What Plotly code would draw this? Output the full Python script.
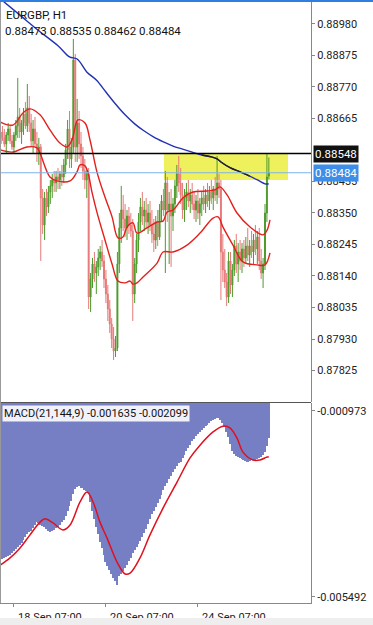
import plotly.graph_objects as go

# ---------------- data ----------------
opens = [0.8858,0.8862,0.8860,0.8858,0.8861,0.8863,0.8859,0.8857,0.8861,0.8864,
         0.8867,0.8862,0.8865,0.8868,0.8864,0.8870,0.8865,0.8859,0.8863,0.8858,
         0.8855,0.8857,0.8840,0.8831,0.8840,0.8837,0.8842,0.8844,0.8846,0.8845,
         0.8847,0.8846,0.8848,0.8847,0.8851,0.8856,0.8863,0.8853,0.8857,0.8886,
         0.8857,0.8865,0.8858,0.8854,0.8849,0.8846,0.8848,0.8807,0.8813,0.8818,
         0.8815,0.8817,0.8820,0.8822,0.8819,0.8813,0.8808,0.8803,0.8798,0.8793,
         0.8789,0.8790,0.8818,0.8830,0.8836,0.8833,0.8830,0.8834,0.8831,0.8829,
         0.8808,0.8818,0.8826,0.8832,0.8837,0.8834,0.8836,0.8832,0.8835,0.8831,
         0.8828,0.8826,0.8832,0.8827,0.8836,0.8839,0.8836,0.8845,0.8836,0.8838,
         0.8834,0.8838,0.8844,0.8848,0.8845,0.8841,0.8836,0.8840,0.8842,0.8839,
         0.8841,0.8838,0.8836,0.8839,0.8835,0.8838,0.8840,0.8838,0.8841,0.8839,
         0.8842,0.8840,0.8843,0.8841,0.8845,0.8843,0.8822,0.8816,0.8812,0.8807,
         0.8819,0.8811,0.8816,0.8824,0.8818,0.8822,0.8819,0.8823,0.8820,0.8824,
         0.8821,0.8824,0.8822,0.8826,0.8823,0.8827,0.8819,0.8815,0.8818,0.8835,
         0.88473]
highs = [0.8863,0.8864,0.8863,0.8862,0.8865,0.8864,0.8861,0.8862,0.8866,0.8880,
         0.8870,0.8866,0.8870,0.8872,0.8878,0.8874,0.8868,0.8866,0.8867,0.8862,
         0.8860,0.8858,0.8843,0.8842,0.8843,0.8844,0.8846,0.8848,0.8849,0.8849,
         0.8850,0.8849,0.8851,0.8853,0.8858,0.8866,0.8869,0.8860,0.8893,0.8888,
         0.8873,0.8869,0.8862,0.8857,0.8853,0.8850,0.8850,0.8815,0.8820,0.8822,
         0.8819,0.8823,0.8824,0.8826,0.8821,0.8816,0.8811,0.8806,0.8800,0.8797,
         0.8794,0.8822,0.8835,0.8844,0.8841,0.8838,0.8836,0.8837,0.8835,0.8833,
         0.8820,0.8828,0.8835,0.8840,0.8842,0.8839,0.8840,0.8838,0.8839,0.8836,
         0.8833,0.8834,0.8836,0.8838,0.8841,0.8843,0.8849,0.8847,0.8842,0.8843,
         0.8840,0.8846,0.8851,0.8854,0.8850,0.8845,0.8843,0.8845,0.8846,0.8843,
         0.8845,0.8842,0.8841,0.8843,0.8840,0.8842,0.8844,0.8843,0.8845,0.8844,
         0.8846,0.8844,0.8847,0.8854,0.8848,0.8846,0.8828,0.8823,0.8815,0.8822,
         0.8822,0.8818,0.8826,0.8828,0.8825,0.8826,0.8825,0.8826,0.8827,0.8830,
         0.8826,0.8829,0.8828,0.8831,0.8829,0.8830,0.8823,0.8820,0.8838,0.8855,
         0.88535]
lows = [0.8856,0.8859,0.8857,0.8855,0.8859,0.8858,0.8856,0.8855,0.8859,0.8860,
        0.8860,0.8858,0.8861,0.8863,0.8862,0.8862,0.8857,0.8855,0.8857,0.8852,
        0.8851,0.8819,0.8828,0.8826,0.8834,0.8835,0.8838,0.8840,0.8842,0.8842,
        0.8843,0.8843,0.8844,0.8845,0.8848,0.8853,0.8850,0.8850,0.8855,0.8852,
        0.8852,0.8853,0.8850,0.8846,0.8843,0.8840,0.8803,0.8802,0.8810,0.8812,
        0.8808,0.8814,0.8816,0.8817,0.8810,0.8805,0.8799,0.8795,0.8790,0.8786,
        0.8787,0.8789,0.8815,0.8825,0.8829,0.8827,0.8826,0.8828,0.8827,0.8799,
        0.8805,0.8815,0.8822,0.8829,0.8831,0.8829,0.8830,0.8828,0.8829,0.8825,
        0.8822,0.8823,0.8824,0.8826,0.8832,0.8834,0.8815,0.8832,0.8818,0.8817,
        0.8829,0.8835,0.8840,0.8842,0.8838,0.8833,0.8832,0.8836,0.8837,0.8835,
        0.8836,0.8833,0.8832,0.8833,0.8831,0.8834,0.8836,0.8835,0.8837,0.8836,
        0.8838,0.8836,0.8839,0.8838,0.8840,0.8806,0.8812,0.8810,0.8804,0.8805,
        0.8808,0.8807,0.8814,0.8815,0.8812,0.8816,0.8815,0.8817,0.8818,0.8819,
        0.8817,0.8820,0.8818,0.8821,0.8818,0.8816,0.8813,0.8810,0.8816,0.8832,
        0.88462]
closes = [0.8862,0.8860,0.8858,0.8861,0.8863,0.8859,0.8857,0.8861,0.8864,0.8867,
          0.8862,0.8865,0.8868,0.8864,0.8870,0.8865,0.8859,0.8863,0.8858,0.8855,
          0.8857,0.8840,0.8831,0.8840,0.8837,0.8842,0.8844,0.8846,0.8845,0.8847,
          0.8846,0.8848,0.8847,0.8851,0.8856,0.8863,0.8853,0.8857,0.8886,0.8857,
          0.8865,0.8858,0.8854,0.8849,0.8846,0.8848,0.8807,0.8813,0.8818,0.8815,
          0.8817,0.8820,0.8822,0.8819,0.8813,0.8808,0.8803,0.8798,0.8793,0.8789,
          0.8790,0.8818,0.8830,0.8836,0.8833,0.8830,0.8834,0.8831,0.8829,0.8808,
          0.8818,0.8826,0.8832,0.8837,0.8834,0.8836,0.8832,0.8835,0.8831,0.8828,
          0.8826,0.8832,0.8827,0.8836,0.8839,0.8836,0.8845,0.8836,0.8838,0.8834,
          0.8838,0.8844,0.8848,0.8845,0.8841,0.8836,0.8840,0.8842,0.8839,0.8841,
          0.8838,0.8836,0.8839,0.8835,0.8838,0.8840,0.8838,0.8841,0.8839,0.8842,
          0.8840,0.8843,0.8841,0.8845,0.8843,0.8822,0.8816,0.8812,0.8807,0.8819,
          0.8811,0.8816,0.8824,0.8818,0.8822,0.8819,0.8823,0.8820,0.8824,0.8821,
          0.8824,0.8822,0.8826,0.8823,0.8827,0.8819,0.8815,0.8818,0.8835,0.8847,
          0.88484]

# moving average (blue)
ma_idx = [0,10,20,30,36,40,45,50,55,60,65,70,75,80,85,90,95,100,105,110,113,115,120,125,130,135,138,140]
ma_val = [0.89063,0.89010,0.88957,0.88907,0.88870,0.88863,0.88820,0.88793,0.88753,0.88713,0.88677,
          0.88647,0.88623,0.88603,0.88587,0.88573,0.88563,0.88553,0.88543,0.88537,0.88530,0.88520,
          0.88500,0.88487,0.88473,0.88457,0.88447,0.88447]

# envelope (red)
upper_idx = [0,6.5,11.7,15.4,20.6,25.8,31,34.7,37.3,40.4,44.1,46.7,50.3,54.5,58.2,61.3,63.9,66,69.1,
             71.2,76.4,81.7,84.8,86.9,90,95.2,100.4,107.7,111.9,114.5,118.2,123.4,130.2,137,139.1,140.6]
upper_val = [0.88653,0.88643,0.88683,0.88697,0.88677,0.88627,0.88583,0.88570,0.88593,0.88660,0.88650,
             0.88593,0.88487,0.88403,0.88337,0.88267,0.88270,0.88303,0.88317,0.88283,0.88300,0.88320,
             0.88323,0.88353,0.88360,0.88400,0.88420,0.88423,0.88427,0.88437,0.88410,0.88350,0.88303,
             0.88277,0.88293,0.88327]
lower_idx = [0,6.5,13.8,19,20.6,25.8,29.5,36.3,39.9,41.5,44.1,45.7,47.7,50.3,54.5,58.2,61.3,65,67.6,
             69.1,71.2,74.4,81.7,84.8,90,97.3,104.1,110.9,113.5,116.1,121.3,126.5,133.8,138,140.6]
lower_val = [0.88560,0.88553,0.88570,0.88567,0.88550,0.88470,0.88457,0.88457,0.88487,0.88510,0.88507,
             0.88483,0.88420,0.88353,0.88260,0.88180,0.88123,0.88117,0.88123,0.88113,0.88117,0.88137,
             0.88183,0.88220,0.88220,0.88243,0.88283,0.88333,0.88337,0.88303,0.88243,0.88187,0.88177,
             0.88177,0.88217]

# MACD histogram and signal
macd_hist = [-0.00460,-0.00458,-0.00455,-0.00452,-0.00450,-0.00448,-0.00444,-0.00439,-0.00434,-0.00429,
             -0.00424,-0.00418,-0.00411,-0.00404,-0.00398,-0.00393,-0.00389,-0.00383,-0.00375,-0.00368,
             -0.00370,-0.00374,-0.00378,-0.00380,-0.00384,-0.00389,-0.00392,-0.00390,-0.00387,-0.00383,
             -0.00380,-0.00374,-0.00368,-0.00362,-0.00352,-0.00342,-0.00328,-0.00316,-0.00300,-0.00288,
             -0.00283,-0.00281,-0.00284,-0.00286,-0.00289,-0.00292,-0.00298,-0.00318,-0.00340,-0.00360,
             -0.00381,-0.00398,-0.00416,-0.00432,-0.00448,-0.00464,-0.00474,-0.00484,-0.00494,-0.00503,
             -0.00512,-0.00521,-0.00500,-0.00493,-0.00486,-0.00479,-0.00472,-0.00463,-0.00454,-0.00442,
             -0.00435,-0.00428,-0.00421,-0.00415,-0.00405,-0.00395,-0.00385,-0.00372,-0.00360,-0.00348,
             -0.00341,-0.00332,-0.00322,-0.00311,-0.00301,-0.00291,-0.00281,-0.00272,-0.00263,-0.00255,
             -0.00246,-0.00239,-0.00232,-0.00225,-0.00221,-0.00213,-0.00205,-0.00195,-0.00188,-0.00180,
             -0.00172,-0.00165,-0.00159,-0.00155,-0.00150,-0.00145,-0.00140,-0.00135,-0.00131,-0.00127,
             -0.00123,-0.00120,-0.00118,-0.00116,-0.00115,-0.00120,-0.00128,-0.00138,-0.00148,-0.00162,
             -0.00178,-0.00194,-0.00202,-0.00207,-0.00210,-0.00212,-0.00215,-0.00218,-0.00220,-0.00222,
             -0.00220,-0.00218,-0.00217,-0.00216,-0.00214,-0.00212,-0.00209,-0.00204,-0.00198,-0.00182,
             -0.001635]
sig_idx = [0,5,10.2,15.4,20.6,23.2,27.4,32.6,36.3,41.5,45.1,48.3,51.9,55.6,60.8,65,67.6,72.8,78,84.8,
           92.1,98.9,104.1,110.9,116.1,119.7,123.4,126.5,131.7,135.4,139.1,140]
sig_val = [-0.00472,-0.00455,-0.00431,-0.00399,-0.00368,-0.00360,-0.00370,-0.00387,-0.00375,-0.00319,
           -0.00295,-0.00319,-0.00368,-0.00407,-0.00465,-0.00494,-0.00492,-0.00455,-0.00399,-0.00334,
           -0.00271,-0.00212,-0.00181,-0.00149,-0.00135,-0.00139,-0.00164,-0.00198,-0.00217,-0.00217,
           -0.00210,-0.002099]

price_ticks = [0.88980,0.88875,0.88770,0.88665,0.88455,0.88350,0.88245,0.88140,0.88035,0.87930,0.87825]
macd_ticks = [-0.000973,-0.005492]
time_tick_idx = [7,55,103]
time_tick_text = ['18 Sep 07:00','20 Sep 07:00','24 Sep 07:00']

black_level = 0.88548
bid_level = 0.88484
zone_start, zone_end = 85.3, 150.0
zone_low, zone_high = 0.88460, 0.88548

title_text = 'EURGBP, H1'
ohlc_text = '0.88473 0.88535 0.88462 0.88484'
macd_text = 'MACD(21,144,9) -0.001635 -0.002099'

# ---------------- figure ----------------
idx = list(range(len(closes)))
fig = go.Figure()

fig.add_trace(go.Candlestick(
    x=idx, open=opens, high=highs, low=lows, close=closes,
    increasing=dict(line=dict(color='#4e9a2c', width=1), fillcolor='#4e9a2c'),
    decreasing=dict(line=dict(color='#e77878', width=1), fillcolor='#e77878'),
    whiskerwidth=0, xaxis='x', yaxis='y', hoverinfo='skip'))

fig.add_trace(go.Scatter(x=upper_idx, y=upper_val, mode='lines',
                         line=dict(color='#e3201c', width=1.4, shape='spline'), yaxis='y'))
fig.add_trace(go.Scatter(x=lower_idx, y=lower_val, mode='lines',
                         line=dict(color='#e3201c', width=1.4, shape='spline'), yaxis='y'))
fig.add_trace(go.Scatter(x=ma_idx, y=ma_val, mode='lines',
                         line=dict(color='#2233b0', width=1.4, shape='spline'), yaxis='y'))
# part of MA inside the yellow zone looks dark
in_zone = [(i, v) for i, v in zip(ma_idx, ma_val)
           if zone_start <= i <= zone_end and zone_low <= v <= zone_high]
fig.add_trace(go.Scatter(x=[p[0] for p in in_zone], y=[p[1] for p in in_zone], mode='lines',
                         line=dict(color='#222222', width=1.4, shape='spline'), yaxis='y'))

# histogram (striped lavender/blue in the original: use the mid tone)
fig.add_trace(go.Bar(x=idx, y=macd_hist, yaxis='y2', width=1.0,
                     marker=dict(color='#767fc4', line=dict(width=0))))
fig.add_trace(go.Scatter(x=sig_idx, y=sig_val, mode='lines', yaxis='y2',
                         line=dict(color='#e0101e', width=1.5, shape='spline')))

H = 601.0
def py(pix):
    return (603 - pix) / H

fig.update_layout(
    width=373, height=625,
    margin=dict(l=0, r=62, t=2, b=22),
    paper_bgcolor='white', plot_bgcolor='white', showlegend=False,
    font=dict(family='Roboto', size=11, color='#222222'),
    bargap=0,
    xaxis=dict(domain=[0, 1], anchor='y2', range=[-0.26, 162.0],
               rangeslider=dict(visible=False),
               tickvals=time_tick_idx, ticktext=time_tick_text,
               ticks='outside', ticklen=3, tickcolor='#888888',
               ticklabelshift=36, ticklabelstandoff=1,
               showgrid=False, zeroline=False, showline=True, linecolor='#888888',
               tickfont=dict(size=11, color='#222222')),
    yaxis=dict(domain=[0.3344, 1], anchor='x', side='right', range=[0.87720, 0.89053],
               tickvals=price_ticks, tickformat='.5f',
               ticks='outside', ticklen=3, tickcolor='#888888',
               showgrid=False, zeroline=False, showline=True, linecolor='#888888',
               tickfont=dict(size=11, color='#222222')),
    yaxis2=dict(domain=[0, 0.3328], anchor='x', side='right', range=[-0.005645, -0.000786],
                tickvals=macd_ticks, ticktext=['%.6f' % v for v in macd_ticks],
                ticks='outside', ticklen=3, tickcolor='#888888',
                showgrid=False, zeroline=False, showline=True, linecolor='#888888',
                tickfont=dict(size=11, color='#222222')),
)

shapes = [
    dict(type='rect', xref='x', yref='y', x0=zone_start, x1=zone_end, y0=zone_low, y1=zone_high,
         fillcolor='#eef05c', line=dict(width=0), layer='below'),
    dict(type='line', xref='paper', yref='y', x0=0, x1=1, y0=black_level, y1=black_level,
         line=dict(color='#000000', width=1.5)),
    dict(type='line', xref='paper', yref='y', x0=0, x1=1, y0=bid_level, y1=bid_level,
         line=dict(color='#7eb2ec', width=1)),
    dict(type='line', xref='paper', yref='paper', x0=0, x1=1, y0=py(402.5), y1=py(402.5),
         line=dict(color='#555555', width=1)),
    dict(type='line', xref='paper', yref='paper', x0=0.0016, x1=0.0016, y0=0, y1=1,
         line=dict(color='#999999', width=1)),
    dict(type='rect', xref='paper', yref='paper', x0=0, x1=373/311, y0=1, y1=1 + 2/H,
         fillcolor='#2f7fe0', line=dict(width=0)),
    dict(type='rect', xref='paper', yref='paper', x0=0, x1=373/311, y0=py(625), y1=py(618),
         fillcolor='#eeeeee', line=dict(width=0)),
]
fig.update_layout(shapes=shapes)

annotations = [
    dict(text=title_text, xref='paper', yref='paper', x=0, y=py(15), xanchor='left', yanchor='middle',
         xshift=4, showarrow=False, font=dict(size=11.5, color='#111111')),
    dict(text=ohlc_text, xref='paper', yref='paper', x=0, y=py(31), xanchor='left', yanchor='middle',
         xshift=3, showarrow=False, font=dict(size=11.5, color='#111111')),
    dict(text=macd_text, xref='paper', yref='paper', x=0, y=py(413), xanchor='left', yanchor='middle',
         xshift=2, showarrow=False, bgcolor='rgba(255,255,255,0.9)', borderpad=1,
         font=dict(size=11, color='#111111')),
    dict(text='%.5f' % black_level, xref='paper', yref='y', x=1, y=black_level, xanchor='left',
         yanchor='middle', xshift=2, showarrow=False, bgcolor='#111111', borderpad=1,
         font=dict(size=11.5, color='#ffffff')),
    dict(text='%.5f' % bid_level, xref='paper', yref='y', x=1, y=bid_level, xanchor='left',
         yanchor='middle', xshift=2, showarrow=False, bgcolor='#3d8ee8', borderpad=1,
         font=dict(size=11.5, color='#ffffff')),
]
fig.update_layout(annotations=annotations)

fig.write_html('out.html')
